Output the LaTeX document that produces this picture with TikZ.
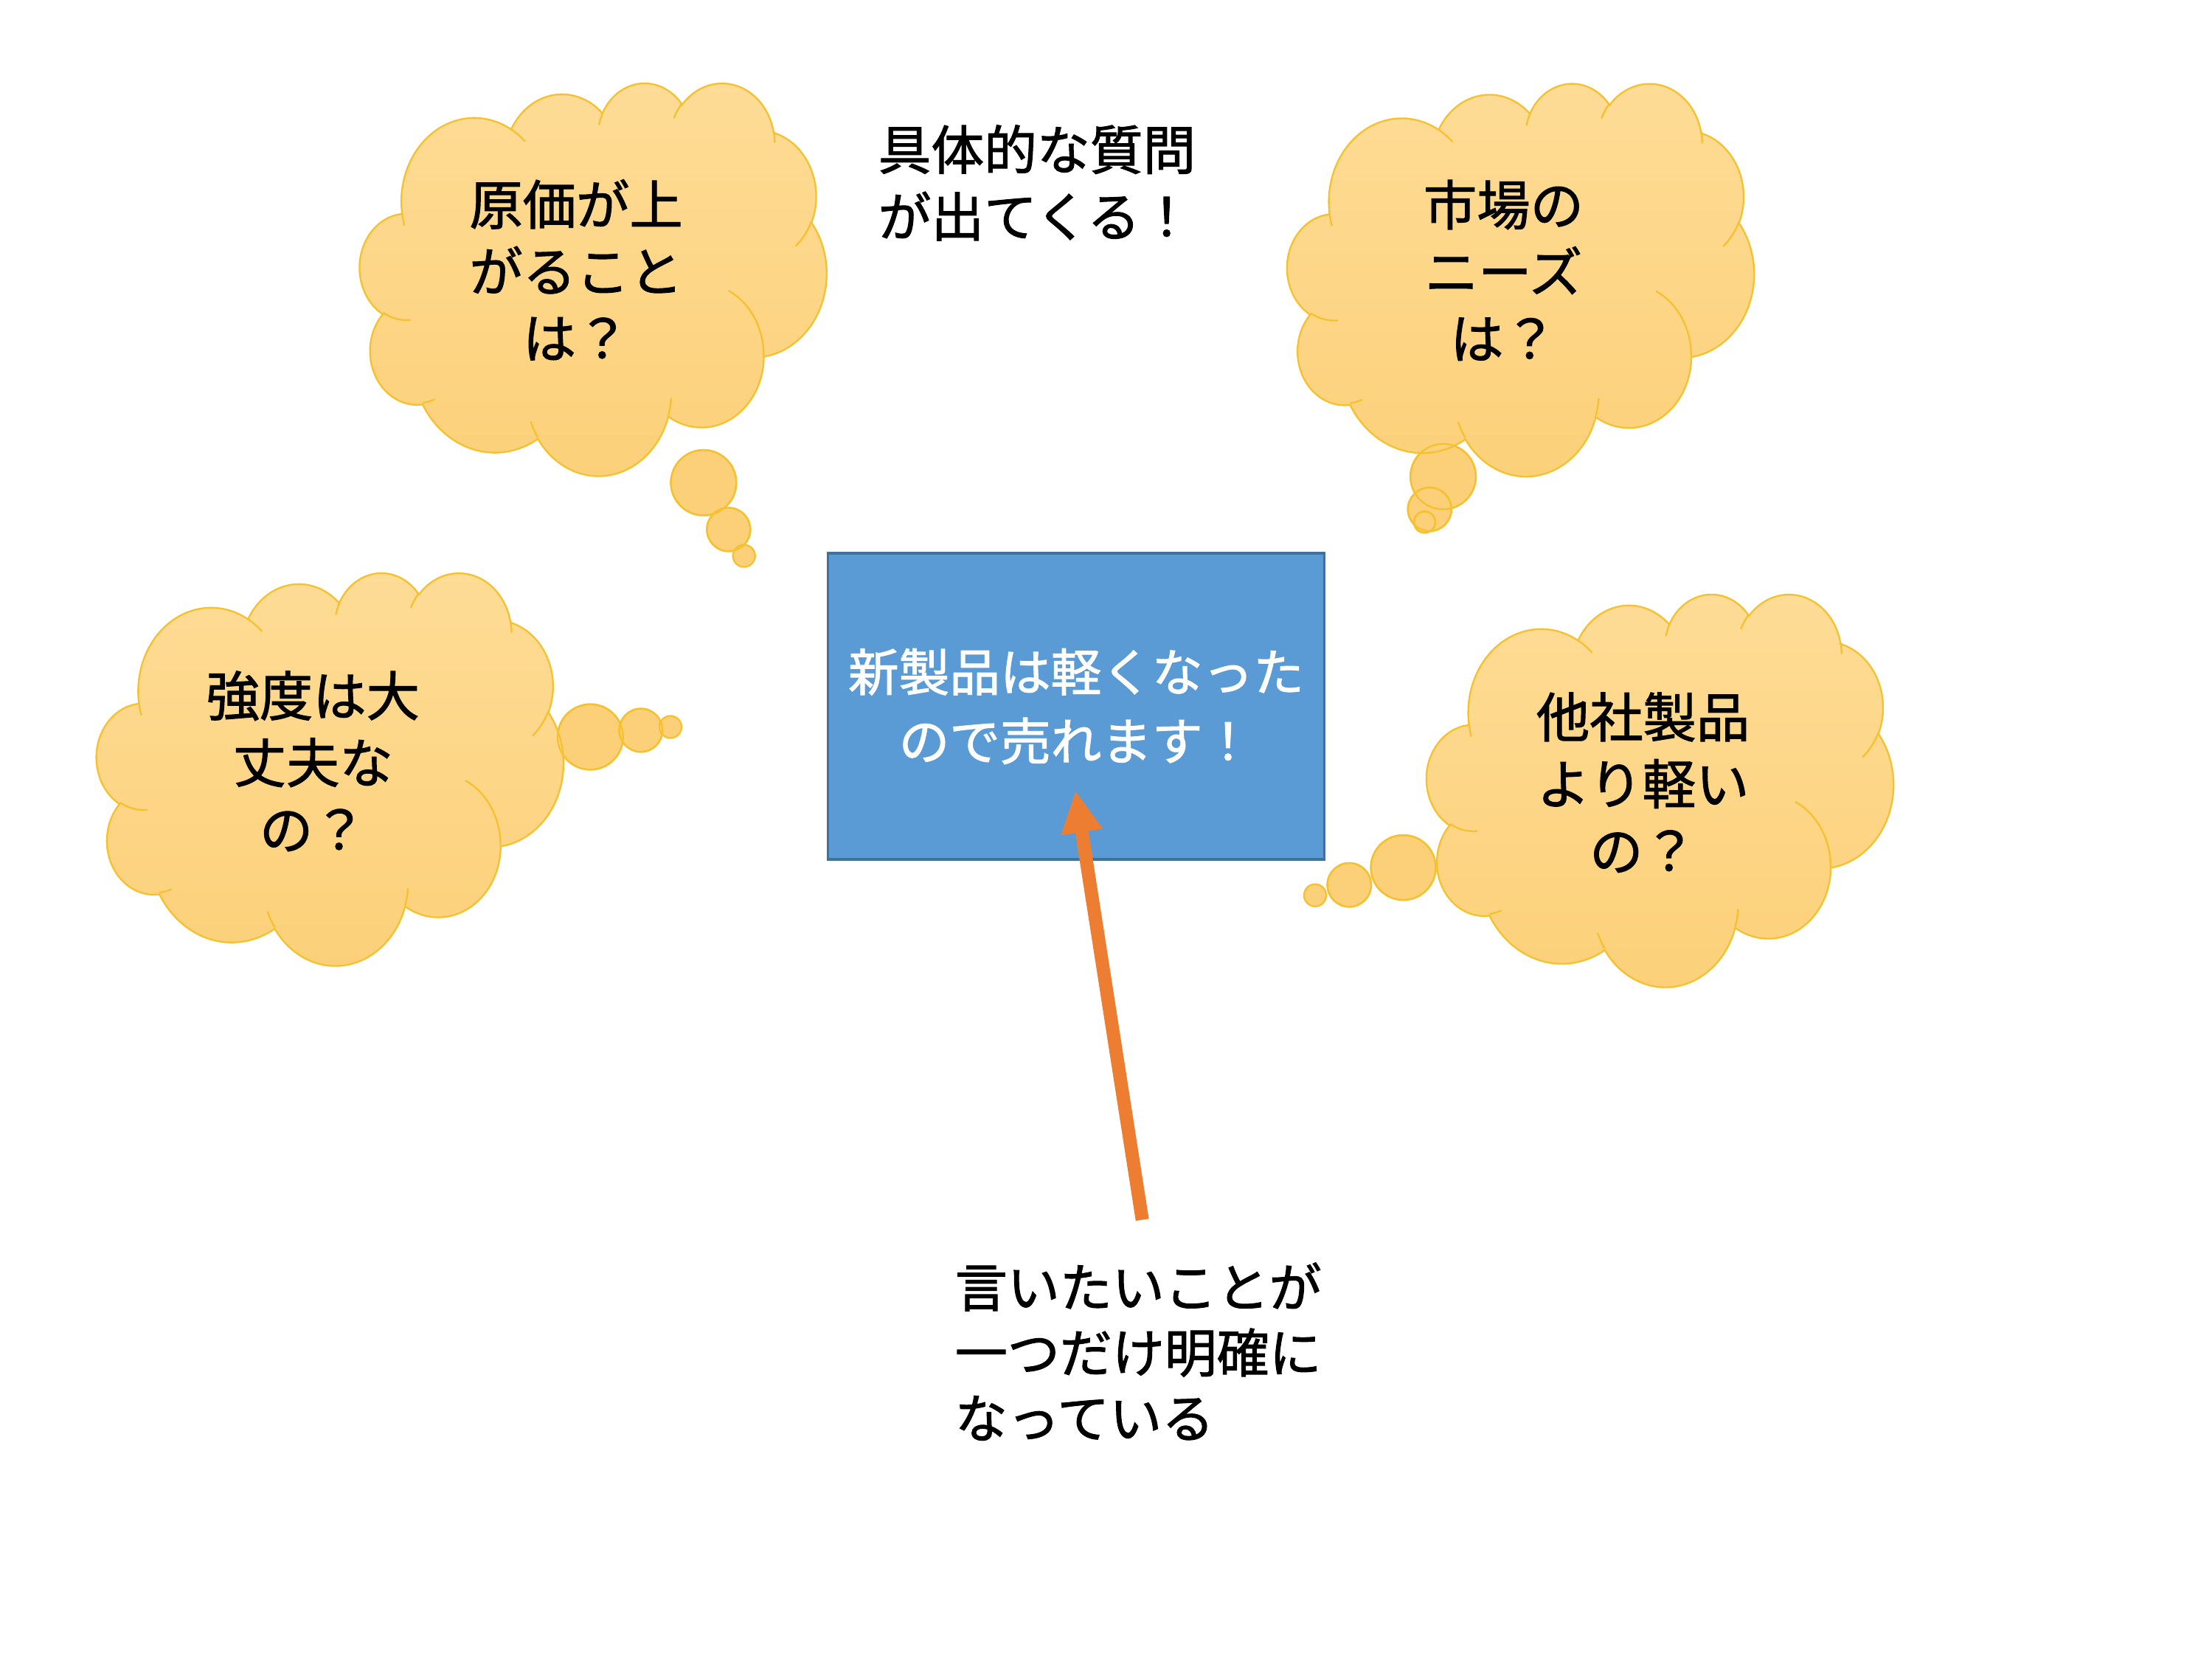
\documentclass[tikz,border=0pt]{standalone}
\usepackage{fontspec}
\newfontfamily\jpfont{Noto Sans CJK JP}[FakeBold=1.5]
\usetikzlibrary{arrows.meta}
\definecolor{cloudtop}{HTML}{FEDC96}
\definecolor{cloudbot}{HTML}{FCD079}
\definecolor{cloudedge}{HTML}{F6C12F}
\definecolor{boxfill}{HTML}{5B9BD5}
\definecolor{boxedge}{HTML}{41719C}
\definecolor{arrowc}{HTML}{ED7D31}
% convert OOXML visual arc angles into parametric ones
\newcommand\pcvt[5]{%
  \pgfmathsetmacro\tmpS{atan2(#2*sin(#4), #3*cos(#4))}%
  \pgfmathsetmacro\tmpE{atan2(#2*sin(#4+#5), #3*cos(#4+#5))}%
  \pgfmathsetmacro\tmpD{mod(\tmpE-\tmpS+720,360)}%
  \expandafter\xdef\csname pcS#1\endcsname{\tmpS}%
  \expandafter\xdef\csname pcD#1\endcsname{\tmpD}%
}
\pcvt{a}{6.753}{9.190}{-190.4875}{123.7805}
\pcvt{b}{5.333}{7.267}{-144.1024}{89.9452}
\pcvt{c}{4.365}{5.945}{-145.8079}{99.7230}
\pcvt{d}{4.857}{6.595}{-130.9861}{117.2417}
\pcvt{e}{5.333}{7.273}{-78.7089}{109.0269}
\pcvt{f}{6.775}{9.220}{-46.2673}{130.2690}
\pcvt{g}{5.785}{7.867}{0.6250}{114.0333}
\pcvt{h}{6.752}{9.215}{22.4516}{115.1726}
\pcvt{i}{7.720}{10.543}{66.2426}{75.7110}
\pcvt{j}{4.360}{5.918}{-274.9421}{146.7356}
\pcvt{k}{4.345}{5.945}{-246.8285}{152.5189}
\pcvt{ia}{4.345}{5.945}{86.742}{26.4295}
\pcvt{ib}{4.360}{5.918}{73.6105}{11.4475}
\pcvt{ic}{6.752}{9.215}{137.6242}{14.0811}
\pcvt{id}{6.752}{9.215}{6.4533}{15.9984}
\pcvt{ie}{5.785}{7.867}{-70.2924}{70.9174}
\pcvt{if}{5.333}{7.273}{30.3180}{27.7515}
\pcvt{ig}{4.857}{6.595}{-13.7443}{14.8589}
\pcvt{ih}{4.857}{6.595}{-149.1815}{18.1954}
\pcvt{ii}{4.365}{5.945}{-163.4943}{17.6864}
\pcvt{ij}{6.753}{9.190}{-66.7070}{12.3194}
\pcvt{ik}{6.753}{9.190}{157.6544}{11.8582}

\tikzset{
  cloudshape/.style={draw=cloudedge, line width=0.6pt, top color=cloudtop, bottom color=cloudbot},
  cloudline/.style={draw=cloudedge, line width=0.6pt},
  bubble/.style={fill=cloudbot, draw=cloudedge, line width=0.6pt},
  bubbleline/.style={draw=cloudedge, line width=0.6pt},
  cloudtext/.style={font=\jpfont\fontsize{18.75pt}{23.5pt}\selectfont, align=center, inner sep=0pt, text=black},
  notetext/.style={font=\jpfont\fontsize{18.6pt}{23.5pt}\selectfont, align=left, inner sep=0pt, text=black, anchor=west},
  msgtext/.style={font=\jpfont\fontsize{18.4pt}{23pt}\selectfont, align=left, inner sep=0pt, text=black, anchor=west},
  mainbox/.style={draw=boxedge, fill=boxfill, line width=1pt, minimum width=174.5pt, minimum height=107.5pt,
    inner sep=0pt, align=center, text=white, font=\jpfont\fontsize{17.8pt}{24.3pt}\selectfont},
  bigarrow/.style={draw=arrowc, line width=4.65pt, -{Triangle[length=14.75pt,width=13.75pt]}},
}

% #1 left, #2 top, #3 width, #4 height (picture units)
\newcommand\thoughtcloud[4]{%
  \begin{scope}[shift={(#1,#2)}, xscale=#3/43.2, yscale=#4/43.2]
    \draw[cloudshape] (3.900,14.370)
      arc[x radius=6.753,y radius=9.190,start angle=\pcSa,delta angle=\pcDa]
      arc[x radius=5.333,y radius=7.267,start angle=\pcSb,delta angle=\pcDb]
      arc[x radius=4.365,y radius=5.945,start angle=\pcSc,delta angle=\pcDc]
      arc[x radius=4.857,y radius=6.595,start angle=\pcSd,delta angle=\pcDd]
      arc[x radius=5.333,y radius=7.273,start angle=\pcSe,delta angle=\pcDe]
      arc[x radius=6.775,y radius=9.220,start angle=\pcSf,delta angle=\pcDf]
      arc[x radius=5.785,y radius=7.867,start angle=\pcSg,delta angle=\pcDg]
      arc[x radius=6.752,y radius=9.215,start angle=\pcSh,delta angle=\pcDh]
      arc[x radius=7.720,y radius=10.543,start angle=\pcSi,delta angle=\pcDi]
      arc[x radius=4.360,y radius=5.918,start angle=\pcSj,delta angle=\pcDj]
      arc[x radius=4.345,y radius=5.945,start angle=\pcSk,delta angle=\pcDk]
      -- cycle;
    \draw[cloudline]
      (4.693,26.177) arc[x radius=4.345,y radius=5.945,start angle=\pcSia,delta angle=\pcDia]
      (6.928,34.899) arc[x radius=4.360,y radius=5.918,start angle=\pcSib,delta angle=\pcDib]
      (16.478,39.090) arc[x radius=6.752,y radius=9.215,start angle=\pcSic,delta angle=\pcDic]
      (28.827,34.751) arc[x radius=6.752,y radius=9.215,start angle=\pcSid,delta angle=\pcDid]
      (34.129,22.954) arc[x radius=5.785,y radius=7.867,start angle=\pcSie,delta angle=\pcDie]
      (41.798,15.354) arc[x radius=5.333,y radius=7.273,start angle=\pcSif,delta angle=\pcDif]
      (38.324,5.426) arc[x radius=4.857,y radius=6.595,start angle=\pcSig,delta angle=\pcDig]
      (29.078,3.952) arc[x radius=4.857,y radius=6.595,start angle=\pcSih,delta angle=\pcDih]
      (22.141,4.720) arc[x radius=4.365,y radius=5.945,start angle=\pcSii,delta angle=\pcDii]
      (14.000,5.192) arc[x radius=6.753,y radius=9.190,start angle=\pcSij,delta angle=\pcDij]
      (4.127,15.789) arc[x radius=6.753,y radius=9.190,start angle=\pcSik,delta angle=\pcDik];
  \end{scope}}

\begin{document}
\begin{tikzpicture}[x=0.5pt, y=-0.5pt]
  \fill[white] (0,0) rectangle (1555,1166.1);
  \useasboundingbox (0,0) rectangle (1555,1166.1);

  % ---- top-left cloud
  \draw[bubble] (494.6,339.3) circle[radius=23];
  \draw[bubble] (512.2,372.2) circle[radius=15.3];
  \draw[bubble] (523,390.7) circle[radius=7.8];
  \thoughtcloud{253}{57.7}{328}{276}
  \draw[bubbleline] (494.6,339.3) circle[radius=23];
  \draw[bubbleline] (512.2,372.2) circle[radius=15.3];
  \node[cloudtext] (c1) at (405,189.7) {原価が上\\がること\\は？};

  % ---- top-right cloud
  \draw[bubble] (1014.5,335) circle[radius=23];
  \draw[bubble] (1005,358) circle[radius=15.3];
  \draw[bubble] (1001.5,367) circle[radius=7.5];
  \thoughtcloud{905}{58}{328}{276}
  \draw[bubbleline] (1014.5,335) circle[radius=23];
  \draw[bubbleline] (1005,358) circle[radius=15.3];
  \draw[bubbleline] (1001.5,367) circle[radius=7.5];
  \node[cloudtext] (c2) at (1057,190) {市場の\\ニーズ\\は？};

  % ---- left cloud
  \draw[bubble] (415,518) circle[radius=23];
  \draw[bubble] (450.5,513.3) circle[radius=15.2];
  \draw[bubble] (471.3,511) circle[radius=7.8];
  \thoughtcloud{68}{402}{328}{276}
  \draw[bubbleline] (415,518) circle[radius=23];
  \draw[bubbleline] (450.5,513.3) circle[radius=15.2];
  \node[cloudtext] (c3) at (220,535) {強度は大\\丈夫な\\の？};

  % ---- right cloud
  \draw[bubble] (986.5,609.8) circle[radius=22.8];
  \draw[bubble] (948.5,622) circle[radius=15.4];
  \draw[bubble] (924.5,629.3) circle[radius=7.8];
  \thoughtcloud{1003}{417}{328}{276}
  \draw[bubbleline] (986.5,609.8) circle[radius=22.8];
  \draw[bubbleline] (948.5,622) circle[radius=15.4];
  \node[cloudtext] (c4) at (1155,550) {他社製品\\より軽い\\の？};

  % ---- central box
  \node[mainbox] (box) at (756.5,496.5) {新製品は軽くなった\\ので売れます！};

  % ---- free texts
  \node[notetext] (note) at (617,128.5) {具体的な質問\\が出てくる！};
  \node[msgtext] (msg) at (671,950) {言いたいことが\\一つだけ明確に\\なっている};

  % ---- arrow
  \coordinate (atail) at (803,857.4);
  \coordinate (atip) at (756,555.7);
  \draw[bigarrow] (atail) -- (atip);
\end{tikzpicture}
\end{document}
